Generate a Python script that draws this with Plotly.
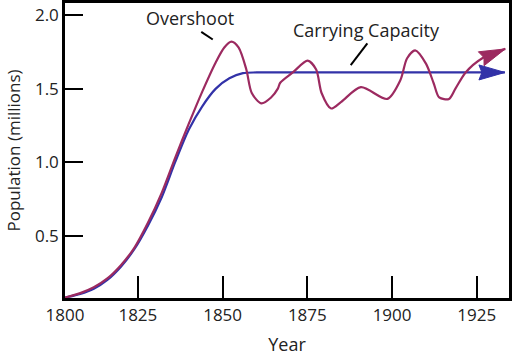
import math
import plotly.graph_objects as go

# Carrying capacity (logistic) curve
cap_years = [1803.5, 1808, 1812, 1816, 1820, 1824, 1828, 1832, 1836, 1840, 1844, 1848,
             1852, 1856, 1860, 1870, 1880, 1890, 1900, 1910, 1920, 1933.3]
cap_values = [0.08, 0.105, 0.14, 0.2, 0.29, 0.41, 0.57, 0.76, 1.0, 1.22, 1.38, 1.5,
              1.57, 1.605, 1.61, 1.61, 1.61, 1.61, 1.61, 1.61, 1.61, 1.61]

# Population with overshoot and oscillation
pop_years = [1803.5, 1808, 1812, 1816, 1820, 1824, 1828, 1832, 1836, 1840, 1844, 1848,
             1850.5, 1852.6, 1854.7, 1857, 1858.6, 1861.4, 1864.3, 1866.3, 1867, 1870.7,
             1875.1, 1877.6, 1879.2, 1882, 1885, 1890.8, 1898.6, 1902.5, 1904.4, 1906.8,
             1910, 1912.3, 1913.9, 1916.8, 1918.7, 1921.7, 1926.5, 1933.4]
pop_values = [0.08, 0.11, 0.15, 0.21, 0.3, 0.42, 0.59, 0.79, 1.03, 1.26, 1.48, 1.68,
              1.78, 1.82, 1.78, 1.63, 1.47, 1.4, 1.44, 1.5, 1.54, 1.61,
              1.69, 1.63, 1.47, 1.365, 1.41, 1.51, 1.43, 1.56, 1.705, 1.76,
              1.67, 1.535, 1.44, 1.43, 1.5, 1.61, 1.705, 1.77]

x_tick_vals = [1803.5, 1825, 1850, 1875, 1900, 1925]
x_tick_text = ["1800", "1825", "1850", "1875", "1900", "1925"]
y_tick_vals = [0.5, 1.0, 1.5, 2.0]
y_tick_text = ["0.5", "1.0", "1.5", "2.0"]

X_RANGE = [1803.5, 1934.5]
Y_RANGE = [0.077, 2.082]
W, H = 512, 363
M = dict(l=65, r=3, t=3, b=65)

RED = "#9c2a60"
BLUE = "#3232a8"
FONT = "Open Sans"
TXT = "#222222"

# pixel scales (for arrowhead geometry)
sx = (W - M["l"] - M["r"]) / (X_RANGE[1] - X_RANGE[0])
sy = (H - M["t"] - M["b"]) / (Y_RANGE[1] - Y_RANGE[0])


def arrowhead(xs, ys, length=26, half=7.5, notch=3):
    """Triangle (slightly swept back) at the end of a series, along the last segment."""
    x1, y1 = xs[-1], ys[-1]
    x0, y0 = xs[-2], ys[-2]
    dx, dy = (x1 - x0) * sx, (y1 - y0) * sy
    n = math.hypot(dx, dy)
    ux, uy = dx / n, dy / n
    px, py = -uy, ux
    pts = [(0, 0), (-length, half), (-(length - notch), 0), (-length, -half), (0, 0)]
    hx = [x1 + (a * ux + b * px) / sx for a, b in pts]
    hy = [y1 + (a * uy + b * py) / sy for a, b in pts]
    return hx, hy


fig = go.Figure()
fig.add_trace(go.Scatter(
    x=cap_years, y=cap_values, mode="lines",
    line=dict(color=BLUE, width=2.2, shape="spline", smoothing=0.8),
    hoverinfo="skip", showlegend=False))
fig.add_trace(go.Scatter(
    x=pop_years, y=pop_values, mode="lines",
    line=dict(color=RED, width=2.2, shape="spline", smoothing=0.8),
    hoverinfo="skip", showlegend=False))

for xs, ys, col in [(cap_years, cap_values, BLUE), (pop_years, pop_values, RED)]:
    hx, hy = arrowhead(xs, ys)
    fig.add_trace(go.Scatter(
        x=hx, y=hy, mode="lines", fill="toself", fillcolor=col,
        line=dict(color=col, width=1), hoverinfo="skip", showlegend=False))

# leader lines
fig.add_shape(type="line", x0=1843.7, y0=1.886, x1=1847.1, y1=1.834,
              line=dict(color="black", width=2))
fig.add_shape(type="line", x0=1892.7, y0=1.807, x1=1887.8, y1=1.66,
              line=dict(color="black", width=2))

fig.add_annotation(x=1840.3, y=1.98, text="Overshoot", showarrow=False,
                   font=dict(family=FONT, size=18, color=TXT))
fig.add_annotation(x=1892.4, y=1.90, text="Carrying Capacity", showarrow=False,
                   font=dict(family=FONT, size=18, color=TXT))

fig.update_layout(
    width=W, height=H,
    margin=M,
    paper_bgcolor="white", plot_bgcolor="white",
    font=dict(family=FONT, size=17, color=TXT),
)
fig.update_xaxes(
    range=X_RANGE, tickvals=x_tick_vals, ticktext=x_tick_text,
    ticks="inside", ticklen=22, tickwidth=2, tickcolor="black",
    showline=True, linecolor="black", linewidth=2.5, mirror=True,
    showgrid=False, zeroline=False, automargin=False,
    tickfont=dict(family=FONT, size=17, color=TXT),
    title=dict(text="Year", font=dict(family=FONT, size=18, color=TXT), standoff=14),
)
fig.update_yaxes(
    range=Y_RANGE, tickvals=y_tick_vals, ticktext=y_tick_text,
    ticks="inside", ticklen=18, tickwidth=2, tickcolor="black",
    showline=True, linecolor="black", linewidth=2.5, mirror=True,
    showgrid=False, zeroline=False, automargin=False,
    tickfont=dict(family=FONT, size=17, color=TXT),
    title=dict(text="Population (millions)", font=dict(family=FONT, size=17, color=TXT), standoff=10),
)

fig.write_html("out.html", config={"displayModeBar": False},
               post_script="document.body.style.margin='0';")
